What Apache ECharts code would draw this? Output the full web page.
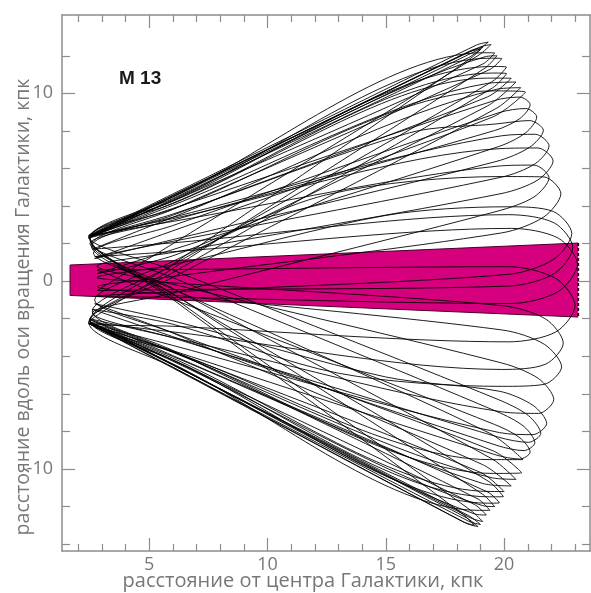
<!DOCTYPE html>
<html><head><meta charset="utf-8">
<script src="https://cdn.jsdelivr.net/npm/echarts@6/dist/echarts.min.js"></script>
<style>html,body{margin:0;padding:0;background:#fff}#c{width:591px;height:593px}</style>
</head><body><div id="c"></div>
<script>
// ---- tick values ----
const xMajorTicks = [5, 10, 15, 20];
const xMinorTicks = [2, 3, 4, 6, 7, 8, 9, 11, 12, 13, 14, 16, 17, 18, 19, 21, 22, 23];
const yMajorTicks = [-10, 0, 10];
const yMinorTicks = [-14, -12, -8, -6, -4, -2, 2, 4, 6, 8, 12];

// ---- galactic disk (R, z bounds at inner and outer edge) ----
const diskR = [1.66, 23.13];
const diskTop = [0.86, 2.03];
const diskBottom = [-0.76, -1.91];

// ---- orbit of M13 in the meridional plane [R, z] ----
const orbitPart1 = [
  [2.45, 2.45],
  [6, 4.64], [18.83, 12.57], [19.33, 12.73], [18.83, 12.27], [6, 4.48],
  [2.5, 2.35],
  [6, 4.51], [18.6, 12.28], [19.1, 12.45], [18.6, 11.88], [6, 0.90],
  [2.45, -2.2],
  [6, -4.58], [18.4, -12.89], [18.9, -13.07], [18.4, -12.59], [6, -4.45],
  [2.5, -2.15],
  [6, -4.42], [18.6, -12.61], [19.1, -12.8], [18.6, -12.21], [6, -0.85],
  [2.5, 2.3],
  [6, 4.25], [19.1, 11.56], [19.6, 12.15], [19.1, 12.16], [6, 4.48],
  [2.45, 2.4],
  [6, 4.28], [19.5, 11.43], [20.1, 11.4], [19.5, 10.63], [6, 0.86],
  [2.6, -1.6],
  [6, -3.69], [18.9, -11.6], [19.4, -12.2], [18.9, -12.2], [6, -4.40],
  [2.45, -2.25],
  [6, -4.19], [19.37, -11.48], [19.97, -11.47], [19.37, -10.68], [6, -0.68],
  [2.55, 1.9],
  [6, 3.82], [19.4, 11.27], [19.9, 11.85], [19.4, 11.87], [6, 4.30],
  [2.45, 2.3],
  [6, 4.04], [19.3, 10.53], [20.5, 10.6], [19.3, 9.33], [6, 1.05],
  [2.7, -1.0],
  [6, -2.76], [19.1, -9.77], [20.3, -10.9], [19.1, -10.77], [6, -4.01],
  [2.5, -2.2],
  [6, -4.26], [19.1, -11.95], [19.6, -12.0], [19.1, -11.35], [6, -0.66],
  [2.5, 2.2]
];
const orbitPart2 = [
  [2.5, 2.2],
  [6, 3.83], [19.5, 10.13], [20.9, 10.07], [19.5, 8.73], [6, 2.68],
  [2.7, 1.2],
  [6, 2.21], [19.66, 6.37], [21.08, 7.13], [21.66, 8.03], [21.08, 8.55], [19.66, 8.37], [16, 7.9], [6, 3.57],
  [2.5, 2.35],
  [6, 4.15], [19.5, 11.08], [20.1, 11.05], [19.5, 10.28], [6, 0.45],
  [2.5, -2.1],
  [6, -3.77], [19.54, -10.235], [20.74, -10.2], [19.54, -9.035], [6, -2.74],
  [2.7, -1.2],
  [6, -2.11], [15, -5.1], [19.8, -5.86], [21.22, -6.61], [21.8, -7.57], [21.22, -8.17], [19.8, -8.06], [6, -3.42],
  [2.5, -2.25],
  [6, -3.76], [19.4, -9.5], [20.8, -9.5], [19.4, -8.1], [6, -0.41],
  [2.65, 1.5],
  [6, 2.96], [19.78, 8.97], [20.92, 9.19], [21.38, 8.74], [20.92, 7.91], [19.78, 7.17], [6, 1.68],
  [2.8, 0.4],
  [6, 1.35], [12.5, 4.6], [19.9, 5.57], [21.68, 5.55], [22.4, 4.66], [21.68, 3.42], [19.9, 2.57], [6, 0.25],
  [2.8, -0.3],
  [6, -0.74], [19.93, -2.6], [21.7, -3.36], [22.43, -4.56], [21.7, -5.49], [19.93, -5.6], [13, -4.9], [6, -2.29],
  [2.6, -1.5],
  [6, -2.95], [19.7, -8.745], [20.84, -9.02], [21.3, -8.6], [20.84, -7.74], [19.7, -6.945], [6, 0.19],
  [2.5, 2.0],
  [6, 3.24], [19.6, 8.02], [20.67, 8.66], [21.1, 9.4], [20.67, 9.80], [19.6, 9.62], [6, 3.87],
  [2.5, 2.4],
  [6, 3.33], [19.87, 7.06], [21.43, 7.09], [22.07, 6.4], [21.43, 5.39], [19.87, 4.66], [6, 1.53],
  [2.8, 0.8]
];
const orbitPart3 = [
  [2.8, 0.8],
  [6, -0.16], [19.9, -4.355], [21.46, -5.19], [22.1, -6.3], [21.46, -7.04], [19.9, -6.955], [6, -3.0],
  [2.5, -2.0],
  [6, -3.74], [19.0, -10.18], [20.0, -11.2], [19.0, -11.18], [6, -4.10],
  [2.5, -2.2],
  [6, -2.70], [19.9, -4.7], [21.75, -4.42], [22.5, -3.3], [21.75, -2.01], [19.9, -1.3], [6, -0.09],
  [2.8, 0.2],
  [6, 0.87], [15, 3.5], [20.16, 3.96], [22.08, 3.71], [22.86, 2.54], [22.08, 1.15], [20.16, 0.36], [6, -0.57],
  [2.75, -0.8],
  [6, -0.86], [20.3, -1.19], [22.29, -0.55], [23.1, 0.9], [22.29, 2.29], [20.3, 2.81], [6, 1.57],
  [2.7, 1.3],
  [6, 2.12], [19.9, 5.54], [21.32, 6.26], [21.9, 7.2], [21.32, 7.82], [19.9, 7.74], [6, 3.40],
  [2.45, 2.3],
  [6, 4.35], [19.2, 11.95], [19.7, 12.0], [19.2, 11.35], [6, 0.67],
  [2.45, -2.2],
  [6, -2.40], [20.2, -3.23], [22.19, -2.70], [23.0, -1.3], [22.19, 0.14], [20.2, 0.77], [6, 0.62],
  [2.8, 0.6],
  [6, -0.96], [19.6, -7.63], [20.67, -8.34], [21.1, -9.1], [20.67, -9.47], [19.6, -9.23], [6, -3.70],
  [2.45, -2.25],
  [6, -4.46], [18.75, -12.39], [19.25, -12.45], [18.75, -11.89], [6, -4.21],
  [2.5, -2.1],
  [6, 0.20], [19.7, 9.22], [20.7, 10.3], [19.7, 10.22], [6, 3.40],
  [2.6, 1.7],
  [6, 2.04], [20.2, 3.54], [22.12, 3.10], [22.9, 1.8], [22.12, 0.40], [20.2, -0.26], [6, -0.45],
  [2.8, -0.5]
];
const orbitPart4 = [
  [2.8, -0.5],
  [6, 1.99], [18.95, 12.05], [19.45, 12.6], [18.95, 12.45], [6, 4.56],
  [2.45, 2.4],
  [6, 4.57], [18.5, 12.2], [19.0, 12.35], [18.5, 11.9], [6, 4.4],
  [2.5, 2.3],
  [6, -0.97], [18.25, -12.4], [18.75, -13.0], [18.25, -12.8], [6, -4.62],
  [2.45, -2.25],
  [6, -4.58], [18.5, -12.78], [19.0, -12.95], [18.5, -12.48], [6, -4.45],
  [2.5, -2.2],
  [6, -4.20], [19.3, -11.82], [19.8, -11.8], [19.3, -11.22], [6, -3.96],
  [2.5, -2.05],
  [6, -3.79], [19.5, -10.47], [20.5, -10.55], [19.5, -9.47], [6, -0.38],
  [2.6, 1.9],
  [6, 3.51], [19.3, 9.81], [20.3, 10.8], [19.3, 10.81], [6, 4.13],
  [2.45, 2.35],
  [6, 0.59], [19.75, -6.30], [21.03, -7.16], [21.55, -8.1], [21.03, -8.58], [19.75, -8.30], [6, -3.02],
  [2.6, -1.7],
  [6, -0.64], [19.7, 3.72], [21.26, 4.48], [21.9, 5.5], [21.26, 6.18], [19.7, 6.12], [6, 3.18],
  [2.45, 2.4]
];

const xLabelText = 'расстояние от центра Галактики, кпк';
const yLabelText = 'расстояние вдоль оси вращения Галактики, кпк';
const titleText = 'M 13';

const X_MIN = 1.32, X_MAX = 23.63, Y_MIN = -14.365, Y_MAX = 14.17;
const AX = '#8c8c8c';
const FONT = '"Open Sans", "Liberation Sans", sans-serif';

function xAx(pos, ticks, len, showLabel, showLine) {
  return {
    type: 'value', position: pos, min: X_MIN, max: X_MAX,
    axisLine: { show: showLine, onZero: false, lineStyle: { color: AX, width: 1.5 } },
    axisTick: { show: true, inside: true, length: len, customValues: ticks, lineStyle: { color: AX, width: 1.2 } },
    axisLabel: { show: showLabel, customValues: xMajorTicks, margin: 5, fontSize: 18, color: '#777', fontFamily: FONT },
    splitLine: { show: false }
  };
}
function yAx(pos, ticks, len, showLabel, showLine) {
  return {
    type: 'value', position: pos, min: Y_MIN, max: Y_MAX,
    axisLine: { show: showLine, onZero: false, lineStyle: { color: AX, width: 1.5 } },
    axisTick: { show: true, inside: true, length: len, customValues: ticks, lineStyle: { color: AX, width: 1.2 } },
    axisLabel: { show: showLabel, customValues: yMajorTicks, margin: 9, fontSize: 18, color: '#777', fontFamily: FONT },
    splitLine: { show: false }
  };
}

const chart = echarts.init(document.getElementById('c'), null, { renderer: 'canvas' });
chart.setOption({
  animation: false,
  backgroundColor: '#fff',
  grid: { left: 62, right: 1, top: 15, bottom: 42, outerBoundsMode: 'none', containLabel: false },
  xAxis: [
    xAx('bottom', xMajorTicks, 13, true, true),
    xAx('bottom', xMinorTicks, 7, false, false),
    xAx('top', xMajorTicks, 13, false, true),
    xAx('top', xMinorTicks, 7, false, false)
  ],
  yAxis: [
    yAx('left', yMajorTicks, 13, true, true),
    yAx('left', yMinorTicks, 8, false, false),
    yAx('right', yMajorTicks, 13, false, true),
    yAx('right', yMinorTicks, 8, false, false)
  ],
  title: {
    text: titleText, left: 114, top: 64,
    textStyle: { fontSize: 19, fontWeight: 'bold', color: '#1a1a1a', fontFamily: '"Liberation Sans", Arial, sans-serif' }
  },
  graphic: [
    { type: 'text', x: 303, y: 581, style: { text: xLabelText, fontSize: 20, fill: '#777', fontFamily: FONT, align: 'center', verticalAlign: 'middle' } },
    { type: 'text', x: 23, y: 307, rotation: Math.PI / 2, style: { text: yLabelText, fontSize: 19.5, fill: '#777', fontFamily: FONT, align: 'center', verticalAlign: 'middle' } }
  ],
  series: [
    {
      type: 'custom', xAxisIndex: 0, yAxisIndex: 0, z: 1, silent: true,
      data: [[diskR[0], 0]],
      renderItem: function (params, api) {
        const tl = api.coord([diskR[0], diskTop[0]]);
        const tr = api.coord([diskR[1], diskTop[1]]);
        const br = api.coord([diskR[1], diskBottom[1]]);
        const bl = api.coord([diskR[0], diskBottom[0]]);
        return {
          type: 'group', children: [
            { type: 'polygon', shape: { points: [tl, tr, br, bl] }, style: { fill: '#d6007f', stroke: null } },
            { type: 'polyline', shape: { points: [tr, tl, bl, br] }, style: { stroke: '#4a0028', lineWidth: 1, fill: null } },
            { type: 'line', shape: { x1: tr[0], y1: tr[1], x2: br[0], y2: br[1] }, style: { stroke: '#3a0020', lineWidth: 2, lineDash: [3, 2] } }
          ]
        };
      }
    },
    {
      type: 'line', xAxisIndex: 0, yAxisIndex: 0, z: 3,
      data: orbitPart1.concat(orbitPart2.slice(1), orbitPart3.slice(1), orbitPart4.slice(1)),
      smooth: 0.3, showSymbol: false, symbol: 'none', silent: true,
      lineStyle: { color: '#000', width: 1, opacity: 0.88 }
    }
  ]
});
</script>
</body></html>
